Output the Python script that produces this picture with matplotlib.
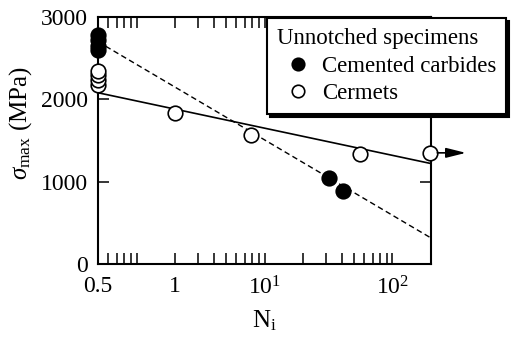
import matplotlib
matplotlib.use('Agg')
import matplotlib.pyplot as plt
from matplotlib.lines import Line2D
from matplotlib.ticker import FixedLocator, FixedFormatter, NullFormatter

plt.rcParams['font.family'] = 'Liberation Serif'
plt.rcParams['mathtext.fontset'] = 'custom'
plt.rcParams['mathtext.rm'] = 'Liberation Serif'
plt.rcParams['mathtext.it'] = 'Liberation Serif:italic'

# static strength is plotted at N = 0.5
carbideN = [0.5, 0.5, 0.5, 0.5, 32, 41]
carbideS = [2600, 2650, 2720, 2780, 1050, 890]
cermetN  = [0.5, 0.5, 0.5, 0.5, 2, 7.8, 56, 195]
cermetS  = [2170, 2230, 2290, 2350, 1840, 1570, 1340, 1350]

# run-out point and where its arrow points to
runoutN = 195
runoutS = 1350
arrowN  = 375

# fitted lines
solidN = [0.5, 200]
solidS = [2080, 1220]
dashN  = [0.5, 200]
dashS  = [2700, 316]

xMajor    = [0.5, 2, 10, 100]
xMajorLbl = ['0.5', '1', '$10^1$', '$10^2$']
xMinor    = [0.6, 0.7, 0.8, 0.9, 1, 3, 4, 5, 6, 7, 8, 9,
             20, 30, 40, 50, 60, 70, 80, 90]
yTicks    = [0, 1000, 2000, 3000]

fs = 17
fsLeg = 16.5

fig = plt.figure(figsize=(5.12, 3.39), dpi=100)
ax = fig.add_axes([98 / 512, 1 - 264 / 339, 333 / 512, 247 / 339])

ax.plot(solidN, solidS, '-', color='black', lw=1.2, zorder=2)
ax.plot(dashN, dashS, '--', color='black', lw=1.0, dashes=(4, 2.5), zorder=2)

ax.plot(cermetN, cermetS, 'o', ls='none', mfc='white', mec='black',
        mew=1.2, ms=10.5, zorder=3, clip_on=False)
ax.plot(carbideN, carbideS, 'o', ls='none', mfc='black', mec='black',
        mew=1.2, ms=10.5, zorder=3, clip_on=False)

ax.annotate('', xy=(arrowN, runoutS), xytext=(runoutN, runoutS),
            arrowprops=dict(arrowstyle='-|>,head_length=0.8,head_width=0.2',
                            color='black', lw=1.2, shrinkA=5.5, shrinkB=0,
                            mutation_scale=15),
            annotation_clip=False)

ax.set_xscale('log')
ax.set_xlim(0.5, 200)
ax.set_ylim(0, 3000)

ax.xaxis.set_major_locator(FixedLocator(xMajor))
ax.xaxis.set_major_formatter(FixedFormatter(xMajorLbl))
ax.xaxis.set_minor_locator(FixedLocator(xMinor))
ax.xaxis.set_minor_formatter(NullFormatter())
ax.yaxis.set_major_locator(FixedLocator(yTicks))
ax.yaxis.set_minor_locator(FixedLocator([]))

ax.tick_params(axis='both', which='both', direction='in', length=8,
               width=1.1, labelsize=fs, top=True, right=True)
ax.tick_params(axis='x', which='major', pad=9)
ax.tick_params(axis='y', which='major', pad=7)
for sp in ax.spines.values():
    sp.set_linewidth(1.5)

ax.set_xlabel(r'N$_{\mathrm{i}}$', fontsize=18, labelpad=6)
ax.set_ylabel(r'$\sigma_{\mathrm{max}}$ (MPa)', fontsize=18)
ax.yaxis.set_label_coords(-0.192, 0.571)

handles = [Line2D([], [], marker='o', ls='none', mfc='black', mec='black',
                  mew=1.2, ms=9),
           Line2D([], [], marker='o', ls='none', mfc='white', mec='black',
                  mew=1.2, ms=9)]
leg = ax.legend(handles, ['Cemented carbides', 'Cermets'],
                title='Unnotched specimens', title_fontsize=fsLeg, fontsize=fsLeg,
                loc='upper left', bbox_to_anchor=(267 / 512, 1 - 18 / 339),
                bbox_transform=fig.transFigure, alignment='left',
                frameon=True, fancybox=False, shadow={'color': 'black', 'alpha': 1},
                borderpad=0.42, handlelength=1.85, handletextpad=0.15,
                labelspacing=0.3, borderaxespad=0)
leg.get_frame().set_edgecolor('black')
leg.get_frame().set_linewidth(1.5)
leg.set_zorder(10)

fig.savefig('out.png', dpi=100)
